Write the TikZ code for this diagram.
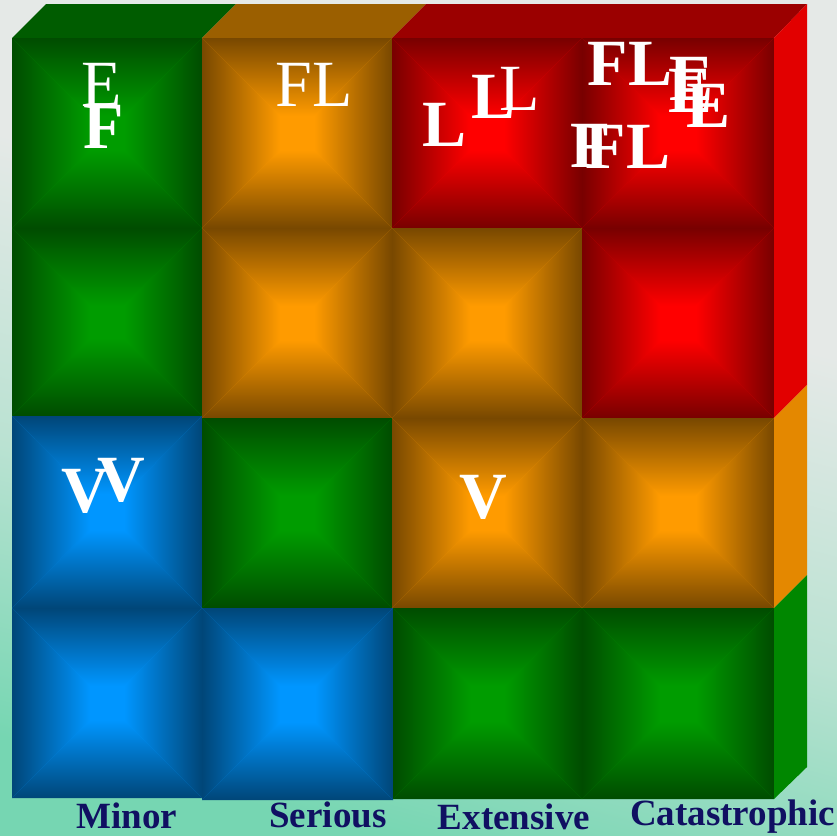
\documentclass[tikz,border=0pt]{standalone}
\usepackage{fontspec}
\setmainfont{Liberation Serif}
\definecolor{bgmint}{RGB}{118,214,178}
\definecolor{bgmid}{RGB}{186,226,210}
\definecolor{bggrey}{RGB}{229,233,231}
% tile colours: dark rim / bright centre
\definecolor{gD}{RGB}{0,76,0}
\definecolor{gB}{RGB}{0,156,0}
\definecolor{oD}{RGB}{120,72,0}
\definecolor{oB}{RGB}{255,155,0}
\definecolor{rD}{RGB}{120,0,0}
\definecolor{rB}{RGB}{255,0,0}
\definecolor{bD}{RGB}{0,70,120}
\definecolor{bB}{RGB}{0,150,255}
% box faces
\definecolor{gT}{RGB}{0,92,0}
\definecolor{oT}{RGB}{155,95,0}
\definecolor{rT}{RGB}{155,0,0}
\definecolor{gR}{RGB}{0,135,0}
\definecolor{oR}{RGB}{228,136,0}
\definecolor{rR}{RGB}{226,0,0}
\definecolor{navy}{RGB}{16,16,98}
\pgfdeclareverticalshading{backdrop}{100bp}{color(0bp)=(bgmint); color(25bp)=(bgmint); color(42bp)=(bgmid); color(60bp)=(bggrey); color(100bp)=(bggrey)}
\def\bevelw{78}
% bevelled tile: x1 y1 x2 y2 dark bright
\newcommand{\bevel}[6]{%
  \fill[#6] (#1,#2) rectangle (#3,#4);
  \coordinate (bc) at ({(#1+#3)/2},{(#2+#4)/2});
  \begin{scope}
    \clip (#1,#2) -- (#3,#2) -- (bc) -- cycle;
    \shade[top color=#5, middle color=#5!66!#6, bottom color=#6] (#1,#2) rectangle (#3,{#2+\bevelw});
  \end{scope}
  \begin{scope}
    \clip (#1,#4) -- (#3,#4) -- (bc) -- cycle;
    \shade[top color=#6, middle color=#5!66!#6, bottom color=#5] (#1,{#4-\bevelw}) rectangle (#3,#4);
  \end{scope}
  \begin{scope}
    \clip (#1,#2) -- (#1,#4) -- (bc) -- cycle;
    \shade[left color=#5, middle color=#5!66!#6, right color=#6] (#1,#2) rectangle ({#1+\bevelw},#4);
  \end{scope}
  \begin{scope}
    \clip (#3,#2) -- (#3,#4) -- (bc) -- cycle;
    \shade[left color=#6, middle color=#5!66!#6, right color=#5] ({#3-\bevelw},#2) rectangle (#3,#4);
  \end{scope}
}
\begin{document}
\begin{tikzpicture}[x=1pt,y=-1pt,
  letter/.style={text=white, inner sep=0pt, anchor=base, font=\fontsize{66}{66}\selectfont},
  bletter/.style={letter, font=\fontsize{66}{66}\selectfont\bfseries},
  axislbl/.style={text=navy, inner sep=0pt, font=\fontsize{37}{37}\selectfont\bfseries}]
\useasboundingbox (0,0) rectangle (837,835);
\shade[shading=backdrop, shading angle=-15] (0,0) rectangle (837,835);

% top face
\fill[gT] (12,38) -- (46,4) -- (236,4) -- (202,38) -- cycle;
\fill[oT] (202,38) -- (236,4) -- (426,4) -- (392,38) -- cycle;
\fill[rT] (392,38) -- (426,4) -- (807,4) -- (774,38) -- cycle;
% right face
\fill[rR] (774,38) -- (807,4) -- (807,385) -- (774,418) -- cycle;
\fill[oR] (774,418) -- (807,385) -- (807,575) -- (774,608) -- cycle;
\fill[gR] (774,608) -- (807,575) -- (807,767) -- (774,799) -- cycle;

% row 1
\bevel{12}{38}{202}{228}{gD}{gB}
\bevel{202}{38}{392}{228}{oD}{oB}
\bevel{392}{38}{582}{228}{rD}{rB}
\bevel{582}{38}{774}{228}{rD}{rB}
% row 2
\bevel{12}{228}{202}{416}{gD}{gB}
\bevel{202}{228}{392}{418}{oD}{oB}
\bevel{392}{228}{582}{418}{oD}{oB}
\bevel{582}{228}{774}{418}{rD}{rB}
% row 3
\bevel{12}{416}{202}{608}{bD}{bB}
\bevel{202}{418}{392}{608}{gD}{gB}
\bevel{392}{418}{582}{608}{oD}{oB}
\bevel{582}{418}{774}{608}{oD}{oB}
% row 4
\bevel{12}{608}{202}{798}{bD}{bB}
\bevel{202}{608}{393}{800}{bD}{bB}
\bevel{393}{608}{582}{799}{gD}{gB}
\bevel{582}{608}{774}{799}{gD}{gB}

% letters in the cells
\node[letter]  (e1)  at (101.5,106) {E};
\node[bletter] (f1)  at (104,148) {F};
\node[letter]  (fl2) at (314.5,106) {FL};
\node[bletter] (l3a) at (445,146) {L};
\node[bletter] (l3b) at (494,118) {L};
\node[letter]  (l3c) at (520,110) {L};
\node[bletter] (fl4a) at (630,85) {FL};
\node[bletter] (e4a) at (691,100) {E};
\node[bletter] (e4b) at (690,112) {E};
\node[bletter] (e4c) at (708,127) {E};
\node[bletter] (f4)  at (591,167) {F};
\node[bletter] (fl4b) at (628,168) {FL};
\node[bletter] (v1a) at (85,512) {V};
\node[bletter] (v1b) at (121,501) {V};
\node[bletter] (v3)  at (483,518) {V};

% column captions
\node[axislbl, anchor=base] (minor) at (127,828) {Minor};
\node[axislbl, anchor=base] (serious) at (328,827) {Serious};
\node[axislbl, anchor=base] (extensive) at (514,829) {Extensive};
\node[axislbl, anchor=base west] (catastrophic) at (630,825) {Catastrophic};
\end{tikzpicture}
\end{document}
